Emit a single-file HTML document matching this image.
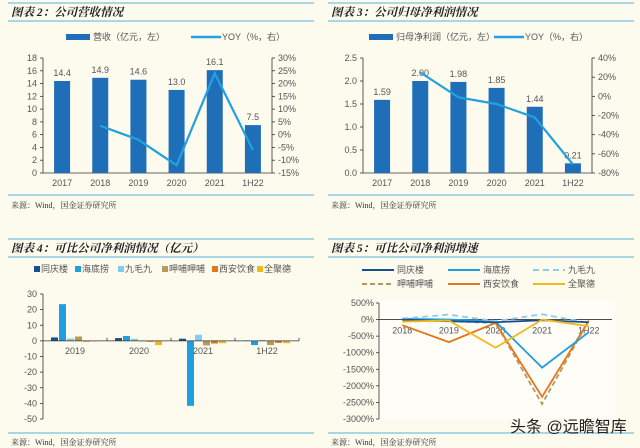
<!DOCTYPE html>
<html><head><meta charset="utf-8">
<style>
html,body{margin:0;padding:0;background:#fdfaee;}
svg{display:block;font-family:"Liberation Sans","Noto Sans CJK SC",sans-serif;}
.t{font-size:9px;fill:#555;}
.ttl{font-size:11.5px;font-weight:bold;font-style:italic;fill:#222;font-family:"Liberation Serif","Noto Serif CJK SC",serif;}
.src{font-size:8px;fill:#333;font-family:"Liberation Serif","Noto Serif CJK SC",serif;}
</style></head>
<body>
<svg id="s" width="640" height="448" viewBox="0 0 640 448" xmlns="http://www.w3.org/2000/svg">
<rect x="0" y="0" width="640" height="448" fill="#fdfaee"/>
<rect x="379" y="300" width="236" height="119" fill="#fffdf7"/>
</svg>
<script>
// Fig 2 data
const f2Cats=["2017","2018","2019","2020","2021","1H22"];
const f2Rev=[14.4,14.9,14.6,13.0,16.1,7.5];
const f2Yoy=[null,3.5,-2,-12,24,-6];
const f2LTicks=[0,2,4,6,8,10,12,14,16,18];
const f2RTicks=[-15,-10,-5,0,5,10,15,20,25,30];
// Fig 3 data
const f3Cats=["2017","2018","2019","2020","2021","1H22"];
const f3Np=[1.59,2.00,1.98,1.85,1.44,0.21];
const f3Yoy=[null,25,-1,-8,-22,-71];
const f3LTicks=[0,0.5,1,1.5,2,2.5];
const f3RTicks=[-80,-60,-40,-20,0,20,40];
// Fig 4 data
const f4Cats=["2019","2020","2021","1H22"];
const f4Names=["同庆楼","海底捞","九毛九","呷哺呷哺","西安饮食","全聚德"];
const f4Tql=[2.2,1.8,1.4,0.3];
const f4Hdl=[23.5,3.1,-41.6,-2.7];
const f4Jmj=[1.5,1.3,3.9,0.5];
const f4Xbxb=[2.8,-0.3,-2.9,-2.7];
const f4Xa=[-0.5,-0.6,-1.7,-1.3];
const f4Qjd=[0,-2.7,-1.5,-1.5];
const f4Ticks=[-50,-40,-30,-20,-10,0,10,20,30];
// Fig 5 data
const f5Cats=["2018","2019","2020","2021","1H22"];
const f5Tql=[0,-50,-80,-20,-80];
const f5Hdl=[20,0,-60,-1450,-380];
const f5Jmj=[30,150,-50,160,-100];
const f5Xbxb=[-20,-50,-100,-2550,-30];
const f5Xa=[-170,-680,-100,-2330,-40];
const f5Qjd=[-60,-30,-850,0,-200];
const f5Ticks=[-3000,-2500,-2000,-1500,-1000,-500,0,500];

const svg=document.getElementById('s');
const NS="http://www.w3.org/2000/svg";
function mk(tag,attrs,txt){const e=document.createElementNS(NS,tag);for(const k in attrs)e.setAttribute(k,attrs[k]);if(txt!==undefined)e.textContent=txt;svg.appendChild(e);return e;}
function lin(d0,d1,r0,r1){return v=>r0+(v-d0)/(d1-d0)*(r1-r0);}

// frames
function frame(ox,oy,title,id,lineTop,lineMid,lineBot,srcY){
  let e;
  e=mk('line',{x1:ox+8,x2:ox+314,y1:oy+lineTop,y2:oy+lineTop,stroke:'#8fcbe3','stroke-width':1.5});
  
  e=mk('text',{x:ox+11,y:oy+lineTop+13,class:'ttl'},title);
  
  e=mk('line',{x1:ox+8,x2:ox+314,y1:oy+lineMid,y2:oy+lineMid,stroke:'#8fcbe3','stroke-width':1.5});
  
  e=mk('line',{x1:ox+8,x2:ox+314,y1:oy+lineBot,y2:oy+lineBot,stroke:'#8fcbe3','stroke-width':1.5});
  
  e=mk('text',{x:ox+11,y:oy+srcY,class:'src'},'来源：Wind，国金证券研究所');
  
}
frame(0,0,'图表 2：公司营收情况','fig2',3,21,195,208);
frame(320,0,'图表 3：公司归母净利润情况','fig3',3,21,195,208);
frame(0,224,'图表 4：可比公司净利润情况（亿元）','fig4',15,33,209,221);
frame(320,224,'图表 5：可比公司净利润增速','fig5',15,33,209,221);

// bar+line combo
function combo(id,ox,cats,bars,yoy,lt,rt,lmin,lmax,rmin,rmax,fmtL,fmtR,fmtV,barLabel,lx){
  const top=58,bot=173,xl=ox+43,xr=ox+272;
  const y=lin(lmin,lmax,bot,top), yr=lin(rmin,rmax,bot,top);
  const step=(xr-xl)/cats.length; const cx=i=>xl+step*(i+0.5);
  let e;
  // legend
  e=mk('rect',{x:ox+lx,y:34,width:24,height:6,fill:'#1f6fb8'});
  e=mk('text',{x:ox+lx+27,y:40,class:'t'},barLabel);
  e=mk('line',{x1:ox+lx+125,x2:ox+lx+155,y1:37,y2:37,stroke:'#23a0e0','stroke-width':2.5});
  e=mk('text',{x:ox+lx+156,y:40,class:'t'},'YOY（%，右）');
  // axes
  e=mk('line',{x1:xl,x2:xl,y1:top,y2:bot,stroke:'#333','stroke-width':0.8});
  e=mk('line',{x1:xr,x2:xr,y1:top,y2:bot,stroke:'#333','stroke-width':0.8});
  e=mk('line',{x1:xl,x2:xr,y1:bot,y2:bot,stroke:'#333','stroke-width':0.8});
  lt.forEach(v=>{e=mk('text',{x:xl-6,y:y(v)+3,class:'t','text-anchor':'end'},fmtL(v));
    e=mk('line',{x1:xl-3,x2:xl,y1:y(v),y2:y(v),stroke:'#333','stroke-width':0.8});});
  rt.forEach(v=>{e=mk('text',{x:xr+6,y:yr(v)+3,class:'t'},fmtR(v));
    e=mk('line',{x1:xr,x2:xr+3,y1:yr(v),y2:yr(v),stroke:'#333','stroke-width':0.8});});
  cats.forEach((c,i)=>{
    e=mk('rect',{x:cx(i)-8,y:y(bars[i]),width:16,height:bot-y(bars[i]),fill:'#1f6fb8'});
    e=mk('text',{x:cx(i),y:y(bars[i])-5,class:'t','text-anchor':'middle'},fmtV(bars[i]));
    e=mk('text',{x:cx(i),y:186,class:'t','text-anchor':'middle'},c);
  });
  const pts=[];yoy.forEach((v,i)=>{if(v!==null)pts.push(cx(i)+','+yr(v));});
  e=mk('polyline',{points:pts.join(' '),fill:'none',stroke:'#23a0e0','stroke-width':2.2});
}
combo('fig2',0,f2Cats,f2Rev,f2Yoy,f2LTicks,f2RTicks,0,18,-15,30,v=>v,v=>v+'%',v=>v.toFixed(1),'营收（亿元，左）',66);
combo('fig3',320,f3Cats,f3Np,f3Yoy,f3LTicks,f3RTicks,0,2.5,-80,40,v=>v.toFixed(1),v=>v+'%',v=>v.toFixed(2),'归母净利润（亿元，左）',49);

// Fig 4
(function(){
  const colors=['#1a4f8f','#1f9ee0','#7fcdf0','#b8995a','#e4761c','#f2b81c'];
  const series=[f4Tql,f4Hdl,f4Jmj,f4Xbxb,f4Xa,f4Qjd];
  const xl=43,xr=299,top=294,bot=419; const y=lin(-50,30,bot,top);
  const gw=(xr-xl)/f4Cats.length;
  let e;
  const lxs=[34,75,118,162,212,257];
  f4Names.forEach((n,j)=>{
    e=mk('rect',{x:lxs[j],y:266,width:6,height:6,fill:colors[j]});
    e=mk('text',{x:lxs[j]+7,y:272,class:'t'},n);
  });
  e=mk('line',{x1:xl,x2:xl,y1:top,y2:bot,stroke:'#333','stroke-width':0.8});
  f4Ticks.forEach(v=>{e=mk('text',{x:xl-6,y:y(v)+3,class:'t','text-anchor':'end'},v);
    e=mk('line',{x1:xl-3,x2:xl,y1:y(v),y2:y(v),stroke:'#333','stroke-width':0.8});});
  f4Cats.forEach((c,i)=>{
    series.forEach((s,j)=>{const v=s[i];const bx=xl+gw*i+8+8*j;
      e=mk('rect',{x:bx,y:Math.min(y(v),y(0)),width:7,height:Math.max(Math.abs(y(v)-y(0)),0.5),fill:colors[j]});});
    e=mk('text',{x:xl+gw*(i+0.5),y:y(0)+13,class:'t','text-anchor':'middle'},c);
    e=mk('line',{x1:xl+gw*(i+1),x2:xl+gw*(i+1),y1:y(0)-3,y2:y(0),stroke:'#333','stroke-width':0.8});
  });
  e=mk('line',{x1:xl,x2:xr,y1:y(0),y2:y(0),stroke:'#333','stroke-width':0.8});
})();

// Fig 5
(function(){
  const xl=379,xr=612,top=303,bot=419; const y=lin(-3000,500,bot,top);
  const step=(xr-xl)/f5Cats.length; const cx=i=>xl+step*(i+0.5);
  let e;
  const defs=[
    {d:f5Tql,c:'#1a4f8f',dash:'',n:'同庆楼',lx:362,ly:273},
    {d:f5Hdl,c:'#1f9ee0',dash:'',n:'海底捞',lx:448,ly:273},
    {d:f5Jmj,c:'#8fcbee',dash:'6,4',n:'九毛九',lx:533,ly:273},
    {d:f5Xbxb,c:'#b8995a',dash:'5,3',n:'呷哺呷哺',lx:362,ly:287},
    {d:f5Xa,c:'#e4761c',dash:'',n:'西安饮食',lx:448,ly:287},
    {d:f5Qjd,c:'#f2b81c',dash:'',n:'全聚德',lx:533,ly:287}];
  defs.forEach((s,j)=>{
    e=mk('line',{x1:s.lx,x2:s.lx+32,y1:s.ly-3,y2:s.ly-3,stroke:s.c,'stroke-width':2,'stroke-dasharray':s.dash});
    e=mk('text',{x:s.lx+35,y:s.ly,class:'t'},s.n);
  });
  e=mk('line',{x1:xl,x2:xl,y1:top,y2:bot,stroke:'#333','stroke-width':0.8});
  f5Ticks.forEach(v=>{e=mk('text',{x:xl-5,y:y(v)+3,class:'t','text-anchor':'end'},v+'%');
    e=mk('line',{x1:xl-3,x2:xl,y1:y(v),y2:y(v),stroke:'#333','stroke-width':0.8});});
  f5Cats.forEach((c,i)=>{e=mk('text',{x:cx(i),y:y(0)+14,class:'t','text-anchor':'middle'},c);});
  e=mk('line',{x1:xl,x2:xr,y1:y(0),y2:y(0),stroke:'#333','stroke-width':0.8});
  [3,4,1,2,0,5].forEach(j=>{const s=defs[j];
    e=mk('polyline',{points:s.d.map((v,i)=>cx(i)+','+y(v)).join(' '),fill:'none',stroke:s.c,'stroke-width':1.8,'stroke-dasharray':s.dash});});
  e=mk('text',{x:510,y:432,'font-size':'16px',fill:'#222'},'头条 @远瞻智库');
})();
</script>
</body></html>
